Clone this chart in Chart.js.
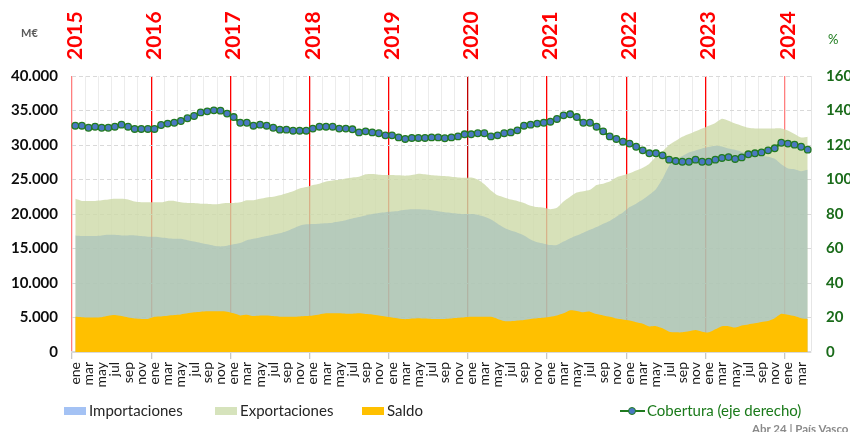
<!DOCTYPE html>
<html>
<head>
<meta charset="utf-8">
<script src="https://cdn.jsdelivr.net/npm/chart.js@4"></script>
<style>
  body { margin:0; background:#fff; }
  #wrap { position:relative; width:850px; height:432px; overflow:hidden; font-family:'Lato','Noto Sans',sans-serif; }
  #c { position:absolute; left:0; top:0; }
  .t { position:absolute; white-space:nowrap; }
  .box { position:absolute; }
</style>
</head>
<body>
<div id="wrap">
  <canvas id="c" width="850" height="432"></canvas>
  <div class="t" style="left:21px;top:26px;font-size:11px;font-weight:bold;color:#5a5a5a;">M€</div>
  <div class="t" style="left:828px;top:31px;font-size:13px;color:#1a7a1a;">%</div>

  <div class="box" style="left:64px;top:407px;width:22px;height:8px;background:#a4c2f4;"></div>
  <div class="t" style="left:89px;top:401px;font-size:15px;line-height:18px;color:#262626;">Importaciones</div>
  <div class="box" style="left:215px;top:407px;width:22px;height:8px;background:#d6e3bc;"></div>
  <div class="t" style="left:240px;top:401px;font-size:15px;line-height:18px;color:#262626;">Exportaciones</div>
  <div class="box" style="left:362px;top:407px;width:22px;height:8px;background:#ffc000;"></div>
  <div class="t" style="left:387px;top:401px;font-size:15px;line-height:18px;color:#262626;">Saldo</div>
  <div class="box" style="left:620px;top:410px;width:25px;height:2px;background:#1f7a1f;"></div>
  <div class="box" style="left:628px;top:407px;width:6px;height:6px;border-radius:50%;background:#4a78c2;border:1px solid #1f7a1f;"></div>
  <div class="t" style="left:647px;top:401px;font-size:15px;line-height:18px;color:#1a7a1a;">Cobertura (eje derecho)</div>

  <div class="t" style="left:752px;top:422px;font-size:11.5px;font-weight:bold;color:#8a8a8a;">Abr 24 | País Vasco</div>
</div>
<script>
// ---- data ----
const years = ['2015','2016','2017','2018','2019','2020','2021','2022','2023','2024'];
const monthNames = ['ene','feb','mar','abr','may','jun','jul','ago','sep','oct','nov','dic'];
const nMonths = 112; // ene 2015 .. abr 2024
const months = [];
for (let i = 0; i < nMonths; i++) months.push(monthNames[i % 12]);

const exportaciones = [
  22200,21900,21900,21900,22000,22100,22200,22200,22100,21800,21700,21700,
  21700,21700,21900,21900,21700,21600,21600,21500,21500,21400,21500,21600,
  21600,21700,22000,22000,22200,22400,22500,22700,23000,23300,23700,23900,
  24200,24400,24700,24850,24950,25150,25300,25400,25750,25800,25700,25650,
  25650,25600,25550,25650,25850,25750,25600,25550,25500,25400,25300,25250,
  25300,25000,24300,23400,22700,22400,22100,21900,21600,21200,21000,20900,
  20700,20900,21800,22500,23100,23300,23500,24200,24400,24700,25300,25600,
  25900,26300,26700,27300,28300,29100,30000,30600,31200,31600,32000,32400,
  32800,33200,33800,33500,33100,32800,32500,32400,32400,32400,32400,32400,
  32100,31600,31100,31200
];
const importaciones = [
  16900,16800,16800,16800,16900,17000,17000,16900,16900,16900,16800,16700,
  16700,16600,16500,16400,16400,16200,16000,15800,15600,15400,15300,15400,
  15600,15800,16200,16400,16600,16800,17000,17200,17500,17900,18300,18500,
  18550,18600,18650,18750,18900,19100,19350,19550,19800,20000,20150,20250,
  20350,20450,20600,20700,20700,20650,20550,20400,20250,20150,20050,20000,
  20000,19900,19600,19200,18600,18000,17600,17300,16900,16300,15900,15700,
  15500,15500,16000,16500,16900,17300,17700,18100,18600,19000,19600,20200,
  21000,21500,22100,22800,23600,25100,27000,27900,28400,28900,29200,29500,
  29700,29900,29800,29500,29300,29000,28700,28500,28400,28300,28000,27200,
  26600,26500,26200,26400
];
const saldo = [
  5100,5050,5000,5000,5050,5250,5350,5200,5000,4850,4800,4800,
  5100,5150,5250,5350,5450,5600,5750,5850,5900,5900,5900,5850,
  5600,5300,5400,5200,5300,5300,5200,5100,5100,5100,5150,5200,
  5300,5450,5600,5600,5600,5550,5550,5600,5500,5450,5300,5150,
  5000,4850,4750,4850,4900,4850,4800,4800,4800,4850,4950,5050,
  5100,5100,5100,5100,4800,4500,4450,4550,4650,4800,4900,4950,
  5100,5300,5600,6050,5950,5750,5850,5500,5300,5100,4850,4700,
  4550,4300,4100,3700,3750,3450,2950,2850,2850,3000,3200,2950,
  2850,3300,3750,3750,3550,3850,4000,4150,4350,4500,4900,5550,
  5400,5200,4900,4800
];
const cobertura = [
  131.2,131.2,130.0,130.6,130.0,130.0,130.6,131.8,130.6,129.3,129.3,129.3,
  129.3,131.6,132.4,132.9,133.9,135.5,136.8,138.9,139.5,140.1,139.9,138.2,
  136.2,132.9,132.9,131.2,131.8,131.2,130.0,128.9,128.9,128.3,128.3,128.3,
  129.5,130.6,130.6,130.6,129.5,129.5,129.1,127.3,127.9,127.3,126.8,125.6,
  125.6,124.4,123.5,124.1,124.1,124.1,124.4,124.4,123.9,124.4,125.0,126.2,
  126.2,126.8,126.8,125.0,125.6,126.8,127.3,128.5,131.2,131.8,132.4,132.9,
  133.5,135.1,137.2,137.8,136.2,132.9,132.9,130.6,127.9,125.0,123.5,121.9,
  120.8,119.0,116.9,115.2,115.2,114.0,111.5,110.7,110.3,110.3,111.5,110.3,
  110.3,111.5,112.5,113.0,111.9,112.8,114.6,115.2,115.7,116.9,118.1,121.3,
  120.8,120.2,119.0,117.3
];
const leftTicks = { min: 0, max: 40000, step: 5000 };
const rightTicks = { min: 0, max: 160, step: 20 };

// ---- chart ----
function fmtThousands(v) {
  return String(Math.round(v)).replace(/\B(?=(\d{3})+(?!\d))/g, '.');
}
function yearLineColor(idx) {
  if (idx === 0 || idx === 108) return 'rgba(255,0,0,0.5)';
  if (idx === 60) return '#c00000';
  return '#ff0000';
}

// year labels above the plot, placed on the January category of each year
const yearLabels = {
  id: 'yearLabels',
  afterDraw(chart) {
    const x = chart.scales.x;
    const ctx = chart.ctx;
    ctx.save();
    ctx.fillStyle = '#ff0000';
    ctx.font = "bold 21px 'Lato','Noto Sans',sans-serif";
    ctx.textAlign = 'left';
    ctx.textBaseline = 'middle';
    years.forEach((y, k) => {
      const px = x.getPixelForValue(k * 12);
      ctx.save();
      ctx.translate(px, chart.chartArea.top - 16);
      ctx.rotate(-Math.PI / 2);
      ctx.fillText(y, 0, 0);
      ctx.restore();
    });
    ctx.restore();
  }
};

Chart.defaults.font.family = "'Lato','Noto Sans',sans-serif";

new Chart(document.getElementById('c'), {
  type: 'line',
  data: {
    labels: months,
    datasets: [
      {
        label: 'Cobertura (eje derecho)',
        data: cobertura,
        yAxisID: 'y1',
        order: 0,
        borderColor: '#1f7a1f',
        borderWidth: 2.5,
        tension: 0.3,
        pointRadius: 3.3,
        pointBackgroundColor: '#4a78c2',
        pointBorderColor: '#227a22',
        pointBorderWidth: 1.3,
        fill: false
      },
      {
        label: 'Saldo',
        data: saldo,
        yAxisID: 'y',
        order: 1,
        backgroundColor: '#ffc000',
        borderWidth: 0,
        pointRadius: 0,
        tension: 0.2,
        fill: 'origin'
      },
      {
        label: 'Importaciones',
        data: importaciones,
        yAxisID: 'y',
        order: 2,
        backgroundColor: 'rgba(150,182,190,0.5)',
        borderWidth: 0,
        pointRadius: 0,
        tension: 0.2,
        fill: 'origin'
      },
      {
        label: 'Exportaciones',
        data: exportaciones,
        yAxisID: 'y',
        order: 3,
        backgroundColor: 'rgba(206,219,170,0.82)',
        borderWidth: 0,
        pointRadius: 0,
        tension: 0.2,
        fill: 'origin'
      }
    ]
  },
  options: {
    responsive: false,
    animation: false,
    devicePixelRatio: 1,
    layout: { padding: { left: 0, right: 0, top: 76, bottom: 34 } },
    plugins: { legend: { display: false }, tooltip: { enabled: false } },
    scales: {
      x: {
        type: 'category',
        position: 'bottom',
        offset: true,
        grid: {
          offset: true,
          drawOnChartArea: true,
          tickLength: 7,
          color: (ctx) => {
            const i = ctx.index;
            if (i === undefined) return '#e6e6e6';
            if (i % 12 === 0) return yearLineColor(i);
            if (i % 2 === 0) return '#ececec';
            return 'rgba(0,0,0,0)';
          },
          tickColor: (ctx) => {
            const i = ctx.index;
            if (i !== undefined && i % 12 === 0) return '#c8c8c8';
            return 'rgba(0,0,0,0)';
          },
          lineWidth: (ctx) => (ctx.index !== undefined && ctx.index % 12 === 0) ? 1.3 : 1
        },
        border: { display: true, color: '#d9d9d9', width: 2 },
        ticks: {
          autoSkip: false,
          minRotation: 90,
          maxRotation: 90,
          padding: 3,
          color: '#1a1a1a',
          font: { size: 14 },
          callback: (v, i) => (i % 2 === 0 ? months[i] : '')
        },
        afterFit: (s) => { s.height = 46; }
      },
      y: {
        position: 'left',
        min: leftTicks.min,
        max: leftTicks.max,
        grid: { color: '#d9d9d9', drawTicks: false, lineWidth: 1 },
        border: { display: false, dash: [4, 3] },
        ticks: {
          stepSize: leftTicks.step,
          padding: 14,
          color: '#0d0d0d',
          font: { size: 15, weight: 'bold' },
          callback: (v) => fmtThousands(v)
        },
        afterFit: (s) => { s.width = 72; }
      },
      y1: {
        position: 'right',
        min: rightTicks.min,
        max: rightTicks.max,
        grid: { display: false, drawTicks: false },
        border: { display: false },
        ticks: {
          stepSize: rightTicks.step,
          padding: 15,
          color: '#1a6b1a',
          font: { size: 15, weight: 'bold' }
        },
        afterFit: (s) => { s.width = 39; }
      }
    }
  },
  plugins: [yearLabels]
});
</script>
</body>
</html>
